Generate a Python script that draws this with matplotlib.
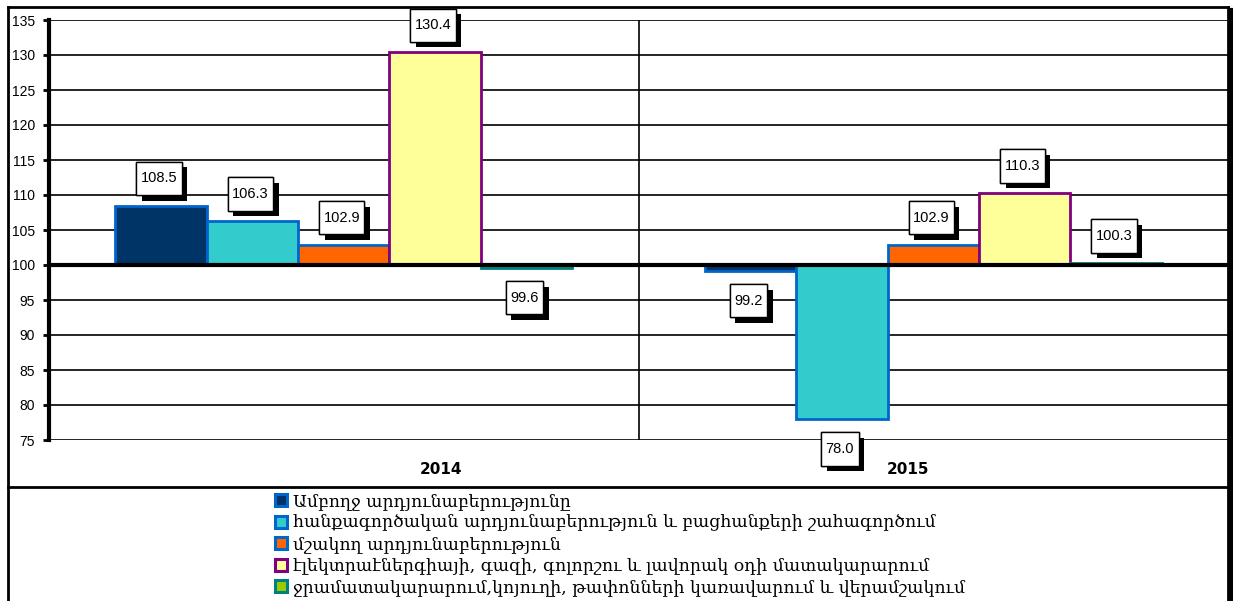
import matplotlib
matplotlib.use('Agg')
import matplotlib.pyplot as plt
import matplotlib.patheffects as pe
from matplotlib.lines import Line2D
from matplotlib.path import Path
import numpy as np

# տվյալներ
years = ['2014', '2015']
series = [
    'Ամբողջ արդյունաբերությունը',
    'հանքագործական արդյունաբերություն և բացհանքերի շահագործում',
    'մշակող արդյունաբերություն',
    'էլեկտրաէներգիայի, գազի, գոլորշու և լավորակ օդի մատակարարում',
    'ջրամատակարարում,կոյուղի, թափոնների կառավարում և վերամշակում',
]
values_2014 = [108.5, 106.3, 102.9, 130.4, 99.6]
values_2015 = [99.2, 78.0, 102.9, 110.3, 100.3]
base = 100

fills = ['#003366', '#33CCCC', '#FF6600', '#FFFF99', '#99CC00']
edges = ['#0066CC', '#0066CC', '#0066CC', '#800080', '#008080']

W, H = 1233, 601
fig = plt.figure(figsize=(W / 100, H / 100), dpi=100)
ax = fig.add_axes([49 / W, 1 - 440 / H, (1228 - 49) / W, (440 - 20) / H])

data = np.array([values_2014, values_2015])
x = np.arange(len(years))
bw = 0.155
n = len(series)


def label_box(x0, y0, width, height, mutation_size):
    px = 0.3 * mutation_size
    py = 0.66 * mutation_size
    x0, y0 = x0 - px, y0 - py
    x1, y1 = x0 + width + 2 * px, y0 + height + 2 * py
    return Path([(x0, y0), (x1, y0), (x1, y1), (x0, y1), (x0, y0)],
                closed=True)


for i in range(n):
    pos = x + (i - (n - 1) / 2) * bw
    vals = data[:, i]
    ax.bar(pos, vals - base, bw, bottom=base, color=fills[i],
           edgecolor=edges[i], linewidth=2, zorder=3)
    for px_, v in zip(pos, vals):
        off = 27 if v >= base else -30
        t = ax.annotate(f'{v:.1f}', (px_, v), xytext=(-2, off),
                        textcoords='offset pixels', ha='center', va='center',
                        fontsize=10.5, family='Liberation Sans', zorder=6,
                        bbox=dict(boxstyle=label_box, fc='white', ec='black',
                                  lw=1))
        t.get_bbox_patch().set_path_effects([
            pe.withSimplePatchShadow(offset=(4, -4), shadow_rgbFace='black',
                                     alpha=1.0),
            pe.Normal()])

ax.set_ylim(75, 135)
ax.set_xlim(-0.5, 1.5)
ax.set_yticks(np.arange(75, 136, 5))
ax.yaxis.grid(True, color='black', lw=1.2, zorder=0)
ax.set_axisbelow(True)
ax.axhline(base, color='black', lw=3, zorder=4)
ax.axvline(0.5, color='black', lw=1.2, zorder=1)
ax.set_xticks([])
ax.tick_params(axis='y', direction='out', length=4, width=2, pad=6,
               labelsize=10)
for lab in ax.get_yticklabels():
    lab.set_family('Liberation Sans')
for s in ['top', 'right', 'bottom']:
    ax.spines[s].set_visible(False)
ax.spines['left'].set_linewidth(3)

# տարիների պիտակներ
for xp, yr in zip([0.165, 0.957], years):
    ax.text(xp, -0.07, yr, transform=ax.get_xaxis_transform(), ha='center',
            va='center', fontsize=11, fontweight='bold', family='DejaVu Sans')

# շրջանակ
def fx(p):
    return p / W


def fy(p):
    return 1 - p / H


fig.add_artist(Line2D([fx(8), fx(8)], [fy(7), 0], color='black', lw=2))
fig.add_artist(Line2D([fx(8), fx(1228)], [fy(7), fy(7)], color='black', lw=2))
fig.add_artist(Line2D([fx(1228), fx(1228)], [fy(7), 0], color='black', lw=2))
fig.add_artist(Line2D([fx(1231), fx(1231)], [fy(10), 0], color='black', lw=3))
fig.add_artist(Line2D([fx(8), fx(1228)], [fy(487), fy(487)], color='black', lw=2))

handles = [Line2D([], [], marker='s', ls='', markersize=8,
                  markerfacecolor=fills[i], markeredgecolor=edges[i],
                  markeredgewidth=2.2) for i in range(n)]
fig.legend(handles, series, loc='upper left',
           bbox_to_anchor=(fx(262), fy(481)), frameon=False,
           prop={'family': 'DejaVu Serif', 'size': 12.4},
           handlelength=0.75, handletextpad=0.35, labelspacing=0.26,
           borderpad=0.2)

fig.savefig('out.png', dpi=100)
